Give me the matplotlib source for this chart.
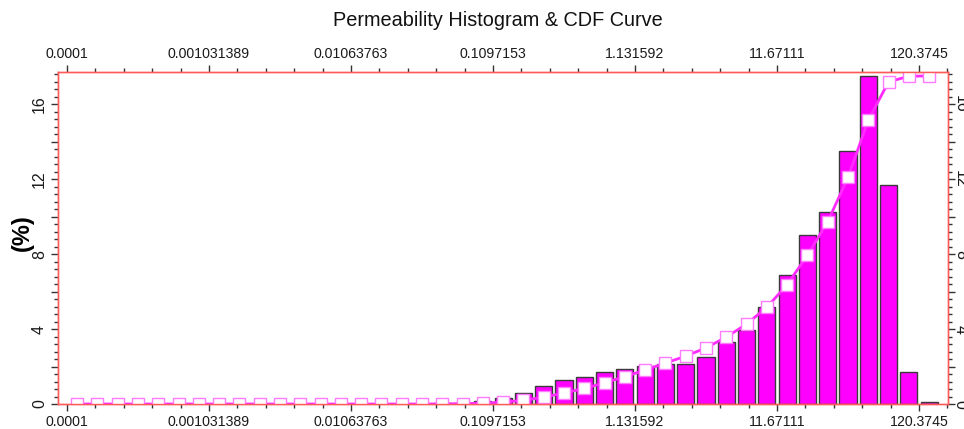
import numpy as np
import matplotlib
matplotlib.use("Agg")
import matplotlib.pyplot as plt
from matplotlib.ticker import FixedLocator, FixedFormatter, NullFormatter

plt.rcParams['font.family'] = ['Liberation Sans', 'DejaVu Sans']

# Permeability class boundaries shown on the axis (log-spaced, mD)
tick_labels = ["0.0001", "0.001031389", "0.01063763", "0.1097153",
               "1.131592", "11.67111", "120.3745"]
bins_per_tick = 7

# Frequency of each permeability class (%)
hist_pct = [0.00, 0.00, 0.00, 0.00, 0.00, 0.00, 0.00, 0.00, 0.00, 0.00,
            0.00, 0.00, 0.00, 0.00, 0.00, 0.00, 0.00, 0.00, 0.03, 0.07,
            0.15, 0.30, 0.57, 0.95, 1.28, 1.42, 1.70, 1.87, 2.04, 2.13,
            2.11, 2.52, 3.30, 3.95, 5.15, 6.88, 9.00, 10.25, 13.50, 17.50,
            11.70, 1.70, 0.10]

title = "Permeability Histogram & CDF Curve"
ylabel = "(%)"
y_major = [0, 4, 8, 12, 16]

bar_color = "#ff00ff"
bar_edge = "#3a3a3a"
line_color = "#ff2bff"
marker_edge = "#ff7aff"
spine_color = "#ff5a5a"
tick_color = "#333333"

h = np.array(hist_pct)
n_bins = len(h)
tick_vals = np.array([float(s) for s in tick_labels])
log0 = np.log10(tick_vals[0])
decade = np.log10(tick_vals[1]) - log0          # log width of one labelled interval
step = (np.log10(tick_vals[-1]) - log0) / (bins_per_tick * (len(tick_vals) - 1))

k = np.arange(n_bins)
bar_frac = 0.84
left = 10 ** (log0 + step * (k + (1 - bar_frac) / 2))
right = 10 ** (log0 + step * (k + (1 + bar_frac) / 2))
centers = 10 ** (log0 + step * (k + 0.5))

# Cumulative curve, scaled to the tallest class so it shares the percent axis
cdf = np.cumsum(h) / h.sum() * h.max()

fig = plt.figure(figsize=(9.64, 4.29), dpi=100)
ax = fig.add_axes([58 / 964, 1 - 404 / 429, 890 / 964, 332 / 429])
ax.set_xscale("log")

mask = h > 0
ax.bar(left[mask], h[mask], width=(right - left)[mask], align="edge",
       color=bar_color, edgecolor=bar_edge, linewidth=1.0, zorder=2)
ax.plot(centers, cdf, color=line_color, linewidth=2.0, zorder=3,
        marker="s", markersize=8.3, markerfacecolor="white",
        markeredgecolor=marker_edge, markeredgewidth=1.0)

xmin = 10 ** (log0 - 0.444 * step)
xmax = 10 ** (log0 + 43.43 * step)
ax.set_xlim(xmin, xmax)
ax.set_ylim(0, 17.71)

ax.xaxis.set_major_locator(FixedLocator(tick_vals))
ax.xaxis.set_major_formatter(FixedFormatter(tick_labels))
minor_x = 10 ** (log0 + decade / 5 * np.arange(-1, 33))
minor_x = minor_x[(minor_x > xmin) & (minor_x < xmax)]
ax.xaxis.set_minor_locator(FixedLocator(minor_x))
ax.xaxis.set_minor_formatter(NullFormatter())

y_ticks = np.arange(0, 17.71, 2)
y_minor = np.arange(0, 17.71, 0.4)
y_text = [str(int(v)) if int(v) in y_major else "" for v in y_ticks]


def style_y(a):
    a.yaxis.set_major_locator(FixedLocator(y_ticks))
    a.yaxis.set_major_formatter(FixedFormatter(y_text))
    a.yaxis.set_minor_locator(FixedLocator(y_minor))
    a.yaxis.set_minor_formatter(NullFormatter())


style_y(ax)
ax.tick_params(axis="x", which="both", direction="out", top=True,
               labeltop=True, colors=tick_color, labelcolor="#1a1a1a",
               labelsize=10.2, pad=3)
ax.tick_params(axis="x", which="major", length=5, width=1)
ax.tick_params(axis="x", which="minor", length=3, width=1)
ax.tick_params(axis="y", which="both", direction="out", left=True,
               right=False, colors=tick_color, labelcolor="#1a1a1a",
               labelsize=11.5, pad=3, labelrotation=90)
ax.tick_params(axis="y", which="major", length=5, width=1)
ax.tick_params(axis="y", which="minor", length=3, width=1)
for lab in ax.get_yticklabels():
    lab.set_va("center")

ax2 = ax.twinx()
ax2.set_ylim(ax.get_ylim())
style_y(ax2)
ax2.tick_params(axis="y", which="both", direction="out", colors=tick_color,
                labelcolor="#1a1a1a", labelsize=11.5, pad=-1.5,
                labelrotation=270)
ax2.tick_params(axis="y", which="major", length=5, width=1)
ax2.tick_params(axis="y", which="minor", length=3, width=1)
for lab in ax2.get_yticklabels():
    lab.set_va("center")

for a in (ax, ax2):
    for s in a.spines.values():
        s.set_color(spine_color)
        s.set_linewidth(1.0)

ax.set_ylabel(ylabel, fontsize=17, fontweight="bold")
ax.yaxis.label.set_va("center")
ax.yaxis.set_label_coords((22 - 58) / 890, 0.515)
fig.text(498 / 964, 1 - 20 / 429, title, ha="center", va="center",
         fontsize=14.3, color="#111111")

fig.savefig("out.png", dpi=100)
